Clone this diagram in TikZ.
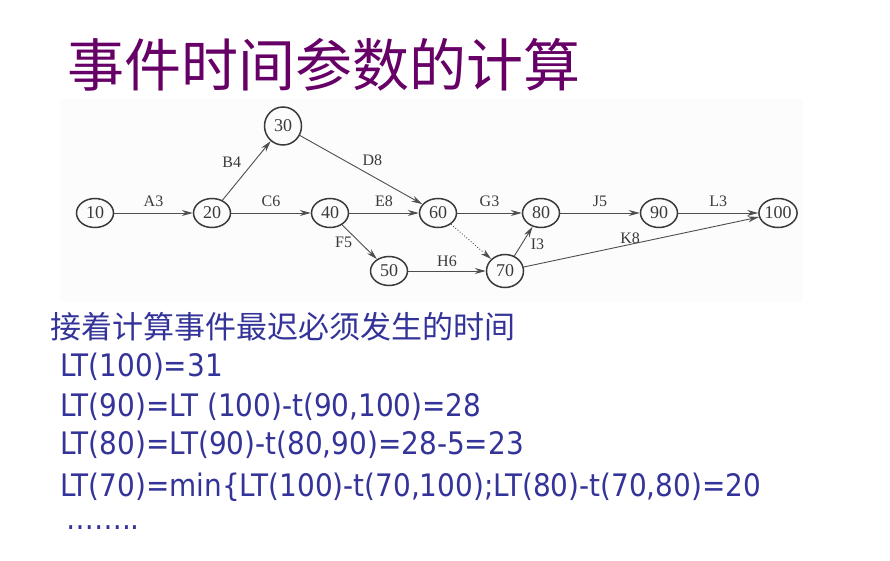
\documentclass[tikz,border=0pt]{standalone}
\usepackage{fontspec}
\setmainfont{Liberation Serif}
\newfontfamily\cjkfont{Noto Sans CJK SC}
\newfontfamily\bodyfont[FakeStretch=0.9]{DejaVu Sans}
\usepackage{xcolor}
\usetikzlibrary{arrows.meta,positioning,shapes.geometric}
\definecolor{titlePurple}{HTML}{660066}
\definecolor{bodyBlue}{HTML}{333399}
\definecolor{netGray}{HTML}{3A3A3A}
\tikzset{
  event/.style={ellipse, draw=netGray, line width=1.5pt, minimum width=37pt, minimum height=29pt, inner sep=0pt, font=\fontsize{18}{18}\selectfont, text=netGray},
  act/.style={->, draw=netGray!90, line width=0.9pt},
  lbl/.style={font=\fontsize{16}{16}\selectfont, text=netGray, inner sep=1pt},
  txtline/.style={anchor=west, text=bodyBlue, inner sep=0pt}
}

\begin{document}
\begin{tikzpicture}[x=1pt, y=-1pt, >={Stealth[length=11pt,width=6pt]}]
\useasboundingbox (0,0) rectangle (890,561);
% title
\node[anchor=west, text=titlePurple, inner sep=0pt, font=\cjkfont\fontsize{57}{57}\selectfont] (title) at (67,65) {事件时间参数的计算};
% scanned network panel
\fill[gray!2] (60,99) rectangle (803,302);
\node[event] (e10) at (95,213) {10};
\node[event] (e20) at (212,213) {20};
\node[event, minimum height=38pt] (e30) at (283,126) {30};
\node[event] (e40) at (330,213) {40};
\node[event] (e50) at (389,271) {50};
\node[event] (e60) at (438,213) {60};
\node[event, minimum height=33pt] (e70) at (505,271) {70};
\node[event] (e80) at (541,213) {80};
\node[event] (e90) at (659,213) {90};
\node[event] (e100) at (778,213) {100};
\draw[act] (e10) -- node[lbl, above=5pt] {A3} (e20);
\draw[act] (e20) -- node[lbl, above left=2pt and 4pt] {B4} (e30);
\draw[act] (e20) -- node[lbl, above=5pt] {C6} (e40);
\draw[act] (e30) -- node[lbl, above right=3pt and 0pt] {D8} (e60);
\draw[act] (e40) -- node[lbl, above=5pt] {E8} (e60);
\draw[act] (e40) -- node[lbl, left=6pt] {F5} (e50);
\draw[act] (e50) -- node[lbl, above=3pt] {H6} (e70);
\draw[act, dotted] (e60) -- (e70);
\draw[act] (e60) -- node[lbl, above=5pt] {G3} (e80);
\draw[act] (e70) -- node[lbl, below right=-4pt and 6pt] {I3} (e80);
\draw[act] (e70) -- node[lbl, above left=-3pt and 0pt] {K8} (e100);
\draw[act] (e80) -- node[lbl, above=5pt] {J5} (e90);
\draw[act] (e90) -- node[lbl, above=5pt] {L3} (e100);
% latest event times
\node[txtline, font=\cjkfont\fontsize{31}{31}\selectfont] (head) at (50,327) {接着计算事件最迟必须发生的时间};
\node[txtline, font=\bodyfont\fontsize{31}{31}\selectfont] (lt100) at (60,367) {LT(100)=31};
\node[txtline, font=\bodyfont\fontsize{31}{31}\selectfont] (lt90) at (60,407) {LT(90)=LT (100)-t(90,100)=28};
\node[txtline, font=\bodyfont\fontsize{31}{31}\selectfont] (lt80) at (60,445) {LT(80)=LT(90)-t(80,90)=28-5=23};
\node[txtline, font=\bodyfont\fontsize{31}{31}\selectfont] (lt70) at (60,487) {LT(70)=min\{LT(100)-t(70,100);LT(80)-t(70,80)=20};
\node[txtline, font=\bodyfont\fontsize{31}{31}\selectfont] (more) at (66,528) {……..};
\end{tikzpicture}
\end{document}
